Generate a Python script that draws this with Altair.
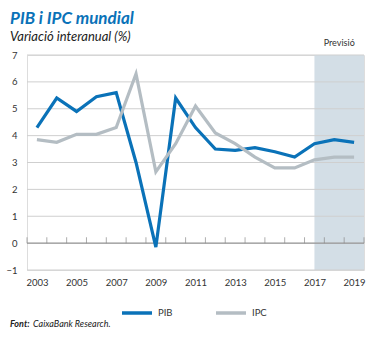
import altair as alt
import pandas as pd

years = list(range(2003, 2020))
pib = [4.3, 5.4, 4.9, 5.45, 5.6, 3.0, -0.15, 5.4, 4.3, 3.5, 3.45, 3.55, 3.4, 3.2, 3.7, 3.85, 3.75]
ipc = [3.85, 3.75, 4.05, 4.05, 4.3, 6.3, 2.65, 3.7, 5.1, 4.1, 3.7, 3.2, 2.8, 2.8, 3.1, 3.2, 3.2]
series = ["PIB", "IPC"]
colors = ["#0A72B8", "#B4BDC3"]
forecast_start = [2017]
forecast_end = [2019.5]
forecast_label = ["Previsió"]
x_domain = [2002.5, 2019.5]
y_domain = [-1, 7]
y_ticks = list(range(-1, 8))
x_labels = list(range(2003, 2020, 2))
source_bold = "Font:"
source_text = "CaixaBank Research."
title_text = "PIB i IPC mundial"
subtitle_text = "Variació interanual (%)"

FONT = "Lato"

df = pd.DataFrame({
    "year": years * 2,
    "value": pib + ipc,
    "serie": ["PIB"] * len(years) + ["IPC"] * len(years),
})
band_df = pd.DataFrame({"x": forecast_start, "x2": forecast_end,
                        "y": [y_domain[1]], "y2": [y_domain[0]],
                        "label": forecast_label,
                        "xm": [(forecast_start[0] + forecast_end[0]) / 2]})
grid_df = pd.DataFrame({"y": y_ticks})
tick_df = pd.DataFrame({"x": [y - 0.5 for y in years] + [years[-1] + 0.5], "y": [0] * (len(years) + 1)})

xs = alt.Scale(domain=x_domain, nice=False, zero=False)
ys = alt.Scale(domain=y_domain, nice=False, zero=False)

xaxis = alt.Axis(values=x_labels, format="d", ticks=False, domain=False, grid=False,
                 labelFont=FONT, labelFontSize=9.5, labelColor="#333333", labelPadding=7,
                 title=None, labelOverlap=False)
yaxis = alt.Axis(values=y_ticks, format="d", ticks=False, domain=False, grid=False,
                 labelFont=FONT, labelFontSize=9.5, labelColor="#333333", labelPadding=10,
                 title=None, labelOverlap=False)

band = alt.Chart(band_df).mark_rect(color="#D3DEE6").encode(
    x=alt.X("x:Q", scale=xs, axis=xaxis),
    x2="x2:Q",
    y=alt.Y("y:Q", scale=ys, axis=yaxis),
    y2="y2:Q",
)

band_text = alt.Chart(band_df).mark_text(font=FONT, fontSize=9, color="#333333", dy=-7,
                                         baseline="bottom").encode(
    x=alt.X("xm:Q", scale=xs, axis=xaxis), y=alt.Y("y:Q", scale=ys, axis=yaxis), text="label:N")

grid = alt.Chart(grid_df).mark_rule(color="#CFCFCF", strokeWidth=1).encode(
    y=alt.Y("y:Q", scale=ys, axis=yaxis))

zero = alt.Chart(pd.DataFrame({"y": [0]})).mark_rule(color="#8A8A8A", strokeWidth=1).encode(
    y=alt.Y("y:Q", scale=ys, axis=yaxis))

ticks = alt.Chart(tick_df).mark_tick(color="#8A8A8A", orient="vertical", size=6, thickness=1,
                                     yOffset=-3).encode(
    x=alt.X("x:Q", scale=xs, axis=xaxis), y=alt.Y("y:Q", scale=ys, axis=yaxis))

lines = alt.Chart(df).mark_line(strokeWidth=3.2).encode(
    x=alt.X("year:Q", scale=xs, axis=xaxis),
    y=alt.Y("value:Q", scale=ys, axis=yaxis),
    color=alt.Color("serie:N", scale=alt.Scale(domain=series, range=colors), sort=series,
                    legend=alt.Legend(orient="none", legendX=93, legendY=241, direction="horizontal",
                                      title=None, symbolType="stroke", symbolSize=900,
                                      symbolStrokeWidth=3.5, labelFont=FONT, labelFontSize=9.5,
                                      labelColor="#333333", columnPadding=36, labelOffset=4)),
)

src1 = alt.Chart(pd.DataFrame({"t": [source_bold]})).mark_text(
    font=FONT, fontSize=9, fontStyle="italic", fontWeight="bold", align="left", color="#222222"
).encode(x=alt.value(-17), y=alt.value(269), text="t:N")
src2 = alt.Chart(pd.DataFrame({"t": [source_text]})).mark_text(
    font=FONT, fontSize=9, fontStyle="italic", align="left", color="#222222"
).encode(x=alt.value(6), y=alt.value(269), text="t:N")

chart = alt.layer(band, grid, band_text, zero, ticks, lines, src1, src2).properties(
    width=337, height=215,
    title=alt.TitleParams(text=title_text, subtitle=subtitle_text, anchor="start", dx=-17,
                          frame="group",
                          font=FONT, fontSize=17, fontStyle="italic", fontWeight="bold",
                          color="#0A72B8", subtitleFont=FONT, subtitleFontSize=13,
                          subtitleFontStyle="italic", subtitleColor="#222222",
                          subtitlePadding=3, offset=-6),
    padding={"left": 27, "top": 55, "right": 15, "bottom": 68},
    autosize=alt.AutoSizeParams(type="none"),
).configure_view(stroke=None).configure(background="white")

chart.save("out.html", embed_options={"renderer": "svg", "actions": False})
